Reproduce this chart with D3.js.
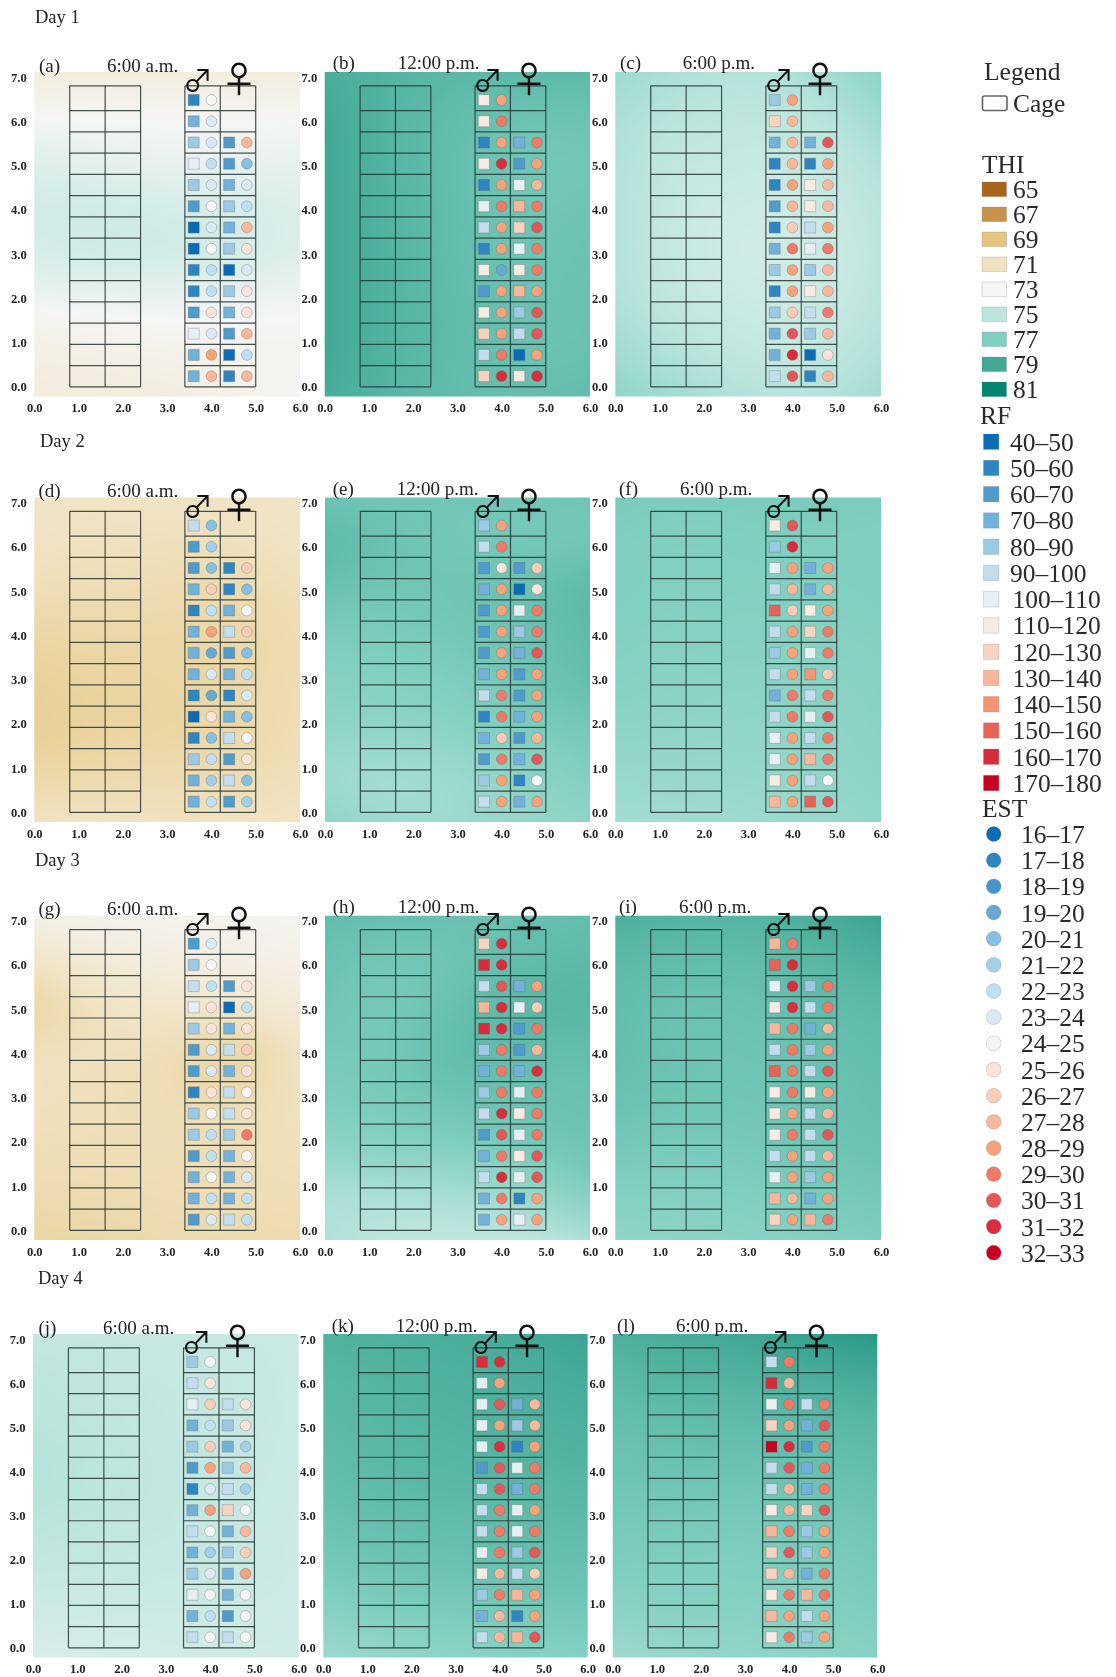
<!DOCTYPE html>
<html><head><meta charset="utf-8">
<style>html,body{margin:0;padding:0;background:#fff}svg{display:block;filter:blur(0.45px)}</style>
<script src="https://cdnjs.cloudflare.com/ajax/libs/d3/7.8.5/d3.min.js"></script>
</head><body><svg id="c" width="1116" height="1677"></svg>
<script>
// ---- Legend classes ----
const thiLevels=[65,67,69,71,73,75,77,79,81];
const thiColors=["#a9651b","#c8924b","#e5c57f","#f0e3c2","#f5f5f5","#bbe5dd","#80cfc0","#41a895","#02866f"];
const rfLabels=["40–50","50–60","60–70","70–80","80–90","90–100","100–110","110–120","120–130","130–140","140–150","150–160","160–170","170–180"];
const rfBreaks=[50,60,70,80,90,100,110,120,130,140,150,160,170];
const rfColors=["#0a6cb5","#2e85c2","#4f9bcc","#72b2da","#9ccae5","#c3dded","#e6eff4","#f7ebe4","#f9d3c2","#f8b79a","#f39472","#e66358","#d92c3b","#ca0020"];
const estLabels=["16–17","17–18","18–19","19–20","20–21","21–22","22–23","23–24","24–25","25–26","26–27","27–28","28–29","29–30","30–31","31–32","32–33"];
const estBreaks=[17,18,19,20,21,22,23,24,25,26,27,28,29,30,31,32];
const estColors=["#0a6cb5","#2e85c2","#4496c9","#66a9d5","#85bfe3","#a3cfe9","#bfe0f0","#daeaf3","#f5f5f5","#f9e3da","#facdb8","#f9b89b","#f6a27b","#ef7a67","#e35758","#da2c3d","#ca0020"];
const xTicks=[0,1,2,3,4,5,6], yTicks=[0,1,2,3,4,5,6,7];
// cage outline positions in the chart's metres
const cageColumns=[[0.8,1.6,2.4],[3.4,4.2,5.0]];
const cageRows=[0,0.48,0.96,1.44,1.92,2.4,2.88,3.36,3.84,4.32,4.8,5.28,5.76,6.24,6.8];
const markRows=[6.48,6,5.52,5.04,4.56,4.08,3.6,3.12,2.64,2.16,1.68,1.2,0.72,0.24];
const markCols=[3.6,4.0,4.4,4.8];
// ---- Cell readings, top row to bottom: male RF, male EST, female RF, female EST (lower bound of class) ----
const cells_a=[[50,24,null,null],[70,23,null,null],[80,23,60,27],[100,22,60,20],[80,23,70,23],[60,24,80,22],[40,23,70,27],[40,24,80,25],[50,22,40,23],[50,22,80,25],[60,25,70,25],[100,23,60,27],[70,28,40,22],[70,27,50,27]];
const cells_b=[[110,28,null,null],[110,29,null,null],[50,28,70,29],[110,31,60,28],[50,28,100,27],[100,29,130,29],[90,28,120,30],[50,28,100,29],[110,19,110,29],[60,28,130,28],[110,28,80,30],[120,28,90,30],[90,29,40,28],[120,31,110,31]];
const cells_c=[[80,28,null,null],[120,27,null,null],[70,27,70,30],[50,27,50,28],[50,28,110,27],[60,27,110,27],[50,26,90,28],[70,29,100,29],[80,28,80,27],[50,28,110,27],[80,26,90,29],[70,30,80,27],[70,31,40,25],[90,30,50,27]];
const cells_d=[[90,20,null,null],[60,21,null,null],[60,20,50,26],[70,26,50,20],[50,22,70,24],[70,28,90,26],[70,19,60,20],[70,23,70,22],[50,19,50,23],[40,25,70,20],[50,20,90,24],[80,22,60,25],[70,21,90,20],[70,22,60,21]];
const cells_e=[[80,28,null,null],[90,29,null,null],[60,25,60,26],[70,28,40,25],[60,28,100,29],[60,28,80,29],[60,28,70,30],[70,28,60,28],[90,29,60,28],[50,29,70,28],[70,26,60,27],[60,29,70,30],[80,28,50,24],[90,28,70,28]];
const cells_f=[[110,30,null,null],[80,31,null,null],[100,28,70,28],[90,27,70,27],[150,26,110,28],[90,28,120,29],[80,28,100,29],[90,28,140,26],[70,29,90,29],[90,29,100,30],[100,28,90,29],[100,28,130,29],[110,28,90,24],[130,28,150,30]];
const cells_g=[[60,23,null,null],[80,24,null,null],[90,22,60,25],[100,25,40,22],[80,25,70,25],[60,23,90,26],[60,23,70,25],[50,25,90,24],[80,24,90,25],[80,22,80,29],[60,22,70,24],[70,24,70,23],[70,22,70,22],[60,23,90,22]];
const cells_h=[[120,31,null,null],[160,31,null,null],[90,30,70,28],[130,31,100,26],[160,31,60,29],[80,29,60,27],[70,29,70,31],[80,29,100,29],[90,31,110,29],[60,30,100,29],[70,29,110,30],[90,31,100,30],[70,29,50,28],[70,28,100,28]];
const cells_i=[[130,29,null,null],[150,31,null,null],[100,31,80,29],[110,31,90,29],[130,29,70,27],[90,29,80,28],[150,29,90,30],[110,29,110,28],[110,28,90,27],[110,29,90,30],[90,28,90,27],[100,28,80,28],[130,27,70,28],[120,28,130,29]];
const cells_j=[[80,24,null,null],[90,25,null,null],[100,26,90,25],[70,22,80,25],[80,26,70,21],[60,28,80,27],[50,23,90,21],[70,28,120,24],[90,24,70,27],[70,21,80,26],[80,23,70,28],[100,24,70,24],[70,22,60,24],[90,24,90,24]];
const cells_k=[[160,31,null,null],[100,28,null,null],[100,30,70,27],[100,28,80,27],[100,31,50,28],[60,30,100,29],[90,30,70,29],[90,29,100,28],[90,29,100,29],[100,29,80,30],[110,27,90,26],[80,29,130,28],[70,27,50,28],[90,27,130,30]];
const cells_l=[[90,29,null,null],[160,27,null,null],[100,29,90,29],[120,28,70,30],[170,31,60,29],[90,30,70,29],[90,27,70,29],[110,27,120,30],[130,29,80,28],[120,30,80,28],[120,27,70,29],[110,29,130,29],[130,28,90,28],[110,29,80,28]];
// ---- THI field samples: 8 rows top to bottom, 5 columns left to right ----
const thi_a=[[72.1,72.1,72.1,72.1,72.1],[73,73,73,73,73],[73.9,73.6,73.4,73.4,73.5],[74.3,74.4,74.2,74.2,73.9],[74.1,74.4,74.4,74.2,73.9],[73.1,73.2,73.2,73.2,73.1],[72.3,72.4,72.6,72.7,72.7],[72.1,72.1,72.1,72.5,73]];
const thi_b=[[78.7,78.4,78.2,78.1,78.1],[79,78.3,77.9,77.5,77.6],[79,78.3,77.9,77.3,77.4],[79,78.4,77.9,77.4,77.6],[79,78.4,77.9,77.5,77.7],[79,78.4,78,77.6,77.7],[79,78.4,78,77.6,77.7],[78.8,78.3,77.9,77.8,77.9]];
const thi_c=[[76,75.4,75.1,75.6,76.6],[75.5,75,74.8,74.8,75.9],[75.3,74.6,74.6,74.5,75.3],[75.3,74.5,74.3,74.3,75],[75.2,74.5,74.2,74.2,74.9],[75.4,74.6,74.4,74.3,75],[75.8,75.1,74.6,74.6,75.3],[76.4,75.8,75.2,75.1,75.8]];
const thi_d=[[71.2,71.1,71.1,71.1,71.2],[71.1,70.9,70.8,70.8,71.1],[70.7,70.6,70.5,70.4,70.8],[70.1,70.2,70.2,70.1,70.5],[69.8,70,70.1,70.2,70.6],[69.6,69.9,70,70.2,70.6],[70.2,70.4,70.5,70.5,70.8],[71.1,71,70.9,71,71.1]];
const thi_e=[[77.6,77.4,77.4,77.4,77.5],[78.2,77.7,77.3,77.3,77.3],[77.7,77.4,77.6,77.7,78.3],[77.1,77.1,77.4,77.6,78],[76.8,76.9,77,77.5,77.9],[76.6,76.4,76.8,77.1,77.3],[75.8,75.6,75.9,76.6,77],[76.5,75.9,76,76.3,76.5]];
const thi_f=[[77.2,77.1,77.1,77.2,77.1],[77,76.9,77,77,77],[77,76.9,76.9,76.9,77],[76.9,76.8,76.8,76.8,76.9],[76.8,76.7,76.6,76.6,76.8],[76.6,76.5,76.4,76.5,76.7],[76.2,76.3,76.2,76.4,76.6],[75.8,75.8,76,76.1,76.4]];
const thi_g=[[72.5,72.6,72.7,72.7,72.8],[71.2,71.9,72.2,72.3,72.5],[69.9,71,71.4,71.5,71.8],[71,70.9,70.6,69.5,71],[70.9,70.7,70.6,70.6,71],[70.7,70.7,70.7,70.7,70.8],[70.5,70.5,70.6,70.6,70.7],[70.1,70.2,70.4,70.5,70.5]];
const thi_h=[[77.9,77.8,77.7,77.7,77.9],[77.7,77.2,77.5,78,78.1],[77.5,77.2,77.8,78.3,78.4],[77.3,77.3,78.2,77.9,77.8],[77.1,77.2,77.6,77.6,77.7],[76.7,76.9,77.1,77.4,77.6],[75.4,75.4,75.6,76.2,77],[75.4,74.9,74.8,74.8,75.5]];
const thi_i=[[78.6,78.4,78.3,78.7,79.2],[78.1,77.9,77.9,78.2,78.5],[77.9,77.6,77.6,77.9,78.1],[77.9,77.6,77.5,77.7,77.9],[77.7,77.5,77.5,77.6,77.8],[77.4,77.2,77.3,77.5,77.7],[76.9,76.9,77,77.2,77.4],[76.5,76.6,76.7,76.9,77.1]];
const thi_j=[[74.7,74.7,74.6,74.6,74.4],[75,74.8,74.6,74.8,74.5],[75,74.9,74.7,74.6,74.5],[75.3,75,74.8,74.6,74.5],[75,74.9,74.7,74.6,74.4],[74.8,74.7,74.6,74.6,74.4],[74.3,74.4,74.4,74.4,74.3],[74,74.1,74.2,74.3,74.3]];
const thi_k=[[78.5,78.6,78.7,78.8,79.2],[78.2,78.4,78.6,78.7,78.8],[78.1,78.3,78.4,78.5,78.6],[77.9,78.2,78.3,78.3,78.4],[77.7,77.9,78,78,78.1],[77.3,77.6,77.7,77.8,77.8],[76.8,77.1,77.2,77.3,77.4],[76.1,76.4,76.6,76.8,76.9]];
const thi_l=[[78.6,78.8,79,79.4,79.8],[78.1,78.4,78.4,78.6,78.8],[77.8,77.9,78,78,78.2],[77.6,77.6,77.6,77.7,77.9],[77.3,77.3,77.2,77.3,77.5],[77.1,77,77,77.1,77.3],[76.7,76.8,76.8,76.9,77.1],[76,76.3,76.4,76.6,76.8]];
// ---- Layout ----
const panels=[
 {tag:"(a)",time:"6:00 a.m.",cells:cells_a,thi:thi_a,x0:34.3,x1:300,y0:72,y1:396.5,tagX:39,timeX:107,base:72},
 {tag:"(b)",time:"12:00 p.m.",cells:cells_b,thi:thi_b,x0:324.7,x1:590,y0:72,y1:396.5,tagX:332.7,timeX:397.7,base:69},
 {tag:"(c)",time:"6:00 p.m.",cells:cells_c,thi:thi_c,x0:615.3,x1:881,y0:72,y1:396.5,tagX:620,timeX:682.7,base:69},
 {tag:"(d)",time:"6:00 a.m.",cells:cells_d,thi:thi_d,x0:34.3,x1:300,y0:497.5,y1:822,tagX:38.5,timeX:107,base:497},
 {tag:"(e)",time:"12:00 p.m.",cells:cells_e,thi:thi_e,x0:325,x1:590,y0:497.5,y1:822,tagX:332.7,timeX:396.7,base:495},
 {tag:"(f)",time:"6:00 p.m.",cells:cells_f,thi:thi_f,x0:615.3,x1:881,y0:497.5,y1:822,tagX:619,timeX:680,base:495},
 {tag:"(g)",time:"6:00 a.m.",cells:cells_g,thi:thi_g,x0:34.3,x1:300,y0:915.7,y1:1240,tagX:38.5,timeX:107,base:915},
 {tag:"(h)",time:"12:00 p.m.",cells:cells_h,thi:thi_h,x0:325,x1:590,y0:915.7,y1:1240,tagX:332.7,timeX:397.7,base:913},
 {tag:"(i)",time:"6:00 p.m.",cells:cells_i,thi:thi_i,x0:615.3,x1:881,y0:915.7,y1:1240,tagX:619,timeX:679,base:913},
 {tag:"(j)",time:"6:00 a.m.",cells:cells_j,thi:thi_j,x0:33,x1:298.7,y0:1334,y1:1657.5,tagX:38.5,timeX:103,base:1334},
 {tag:"(k)",time:"12:00 p.m.",cells:cells_k,thi:thi_k,x0:323.3,x1:587.7,y0:1334,y1:1657.5,tagX:331.7,timeX:395.7,base:1332},
 {tag:"(l)",time:"6:00 p.m.",cells:cells_l,thi:thi_l,x0:612.7,x1:877.3,y0:1334,y1:1657.5,tagX:617,timeX:676,base:1332}
];
const dayLabels=[["Day 1",35,23],["Day 2",40,447],["Day 3",35,866],["Day 4",38,1284]];
const serif="'Liberation Serif','Times New Roman',serif";
const svg=d3.select("#c");
const thiScale=d3.scaleLinear().domain(thiLevels).range(thiColors).clamp(true);
const rfScale=d3.scaleThreshold().domain(rfBreaks).range(rfColors);
const estScale=d3.scaleThreshold().domain(estBreaks).range(estColors);

function fieldImage(grid,w,h){
  const cv=document.createElement("canvas");cv.width=w;cv.height=h;
  const ctx=cv.getContext("2d");const im=ctx.createImageData(w,h);
  const rowFns=grid.map(r=>d3.interpolateBasis(r));
  for(let x=0;x<w;x++){
    const colFn=d3.interpolateBasis(rowFns.map(f=>f(x/(w-1))));
    for(let y=0;y<h;y++){
      const c=d3.rgb(thiScale(colFn(y/(h-1))));
      const k=(y*w+x)*4;im.data[k]=c.r;im.data[k+1]=c.g;im.data[k+2]=c.b;im.data[k+3]=255;
    }
  }
  ctx.putImageData(im,0,0);return cv.toDataURL();
}

panels.forEach(p=>{
  const x=d3.scaleLinear().domain([0,6]).range([p.x0,p.x1]);
  const unit=(p.y1-p.y0-14.7)/7;
  const y=d3.scaleLinear().domain([0,7]).range([p.y1-9.7,p.y1-9.7-7*unit]);
  const g=svg.append("g");
  g.append("image").attr("x",p.x0).attr("y",p.y0).attr("width",p.x1-p.x0).attr("height",p.y1-p.y0)
   .attr("preserveAspectRatio","none")
   .attr("href",fieldImage(p.thi,Math.round(p.x1-p.x0),Math.round(p.y1-p.y0)));
  // cages
  const cage=g.append("g").attr("fill","none").attr("stroke","#263532").attr("stroke-opacity",.85).attr("stroke-width",1.2).attr("stroke-linejoin","round");
  cageColumns.forEach(cols=>{
    cage.selectAll(null).data(cols).join("line")
      .attr("x1",d=>x(d)).attr("x2",d=>x(d)).attr("y1",y(0)).attr("y2",y(6.8));
    cage.selectAll(null).data(cageRows).join("line")
      .attr("y1",d=>y(d)).attr("y2",d=>y(d)).attr("x1",x(cols[0])).attr("x2",x(cols[2]));
  });
  // marks
  const sq=11,r=5.4;
  p.cells.forEach((row,i)=>{
    row.forEach((v,j)=>{
      if(v==null)return;
      const cx=x(markCols[j]),cy=y(markRows[i]);
      if(j%2==0){
        g.append("rect").attr("x",cx-sq/2).attr("y",cy-sq/2).attr("width",sq).attr("height",sq)
         .attr("fill",rfScale(v)).attr("stroke","rgba(90,90,90,.3)").attr("stroke-width",1);
      }else{
        g.append("circle").attr("cx",cx).attr("cy",cy).attr("r",r)
         .attr("fill",estScale(v)).attr("stroke","rgba(90,90,90,.3)").attr("stroke-width",1);
      }
    });
  });
  // axes
  const ax=g.append("g").attr("transform",`translate(0,${p.y1})`)
    .call(d3.axisBottom(x).tickValues(xTicks).tickFormat(d3.format(".1f")).tickSize(0).tickPadding(7));
  const ay=g.append("g").attr("transform",`translate(${p.x0},0)`)
    .call(d3.axisLeft(y).tickValues(yTicks).tickFormat(d3.format(".1f")).tickSize(0).tickPadding(7.5));
  [ax,ay].forEach(a=>{a.select(".domain").remove();
    a.selectAll("text").attr("font-family",serif).attr("font-weight","bold").attr("font-size",12.6).attr("fill","#222");});
  // titles
  g.append("text").attr("x",p.tagX).attr("y",p.base).text(p.tag).attr("font-family",serif).attr("font-size",19).attr("fill","#222");
  g.append("text").attr("x",p.timeX).attr("y",p.base).text(p.time).attr("font-family",serif).attr("font-size",19).attr("fill","#222");
  // sex symbols
  g.append("text").attr("x",x(3.69)).attr("y",p.y0+19).attr("text-anchor","middle").text("♂")
    .attr("font-family","'Noto Sans CJK JP'").attr("font-size",30).attr("fill","#111");
  g.append("text").attr("x",x(4.62)).attr("y",p.y0+21).attr("text-anchor","middle").text("♀")
    .attr("font-family","'Noto Sans CJK JP'").attr("font-size",36).attr("fill","#111");
});

svg.selectAll(".day").data(dayLabels).join("text").attr("class","day")
  .attr("x",d=>d[1]).attr("y",d=>d[2]).text(d=>d[0]).attr("font-family",serif).attr("font-size",18.5).attr("fill","#222");

// ---- Legend ----
const lg=svg.append("g").attr("font-family",serif).attr("font-size",25.5).attr("fill","#2a2a2a");
lg.append("text").attr("x",984).attr("y",80).text("Legend");
lg.append("rect").attr("x",982.5).attr("y",96).attr("width",24.5).attr("height",14.5).attr("rx",2)
  .attr("fill","#fff").attr("stroke","#666").attr("stroke-width",1.6);
lg.append("text").attr("x",1013).attr("y",112).text("Cage");
lg.append("text").attr("x",982).attr("y",173).text("THI");
const thiY=d3.scalePoint().domain(thiLevels).range([189.3,389.3]);
lg.selectAll(".t").data(thiLevels).join("rect").attr("class","t")
  .attr("x",982).attr("y",d=>thiY(d)-7.3).attr("width",24.5).attr("height",14.6)
  .attr("fill",d=>thiScale(d)).attr("stroke","rgba(120,120,120,.25)");
lg.selectAll(".tl").data(thiLevels).join("text").attr("class","tl")
  .attr("x",1013).attr("y",d=>thiY(d)+8.5).text(d=>d);
lg.append("text").attr("x",980).attr("y",424).text("RF");
const rfY=d3.scalePoint().domain(rfLabels).range([441.7,783]);
lg.selectAll(".r").data(rfLabels).join("rect").attr("class","r")
  .attr("x",983.5).attr("y",d=>rfY(d)-7.7).attr("width",15.4).attr("height",15.4)
  .attr("fill",(d,i)=>rfColors[i]).attr("stroke","rgba(120,120,120,.25)");
lg.selectAll(".rl").data(rfLabels).join("text").attr("class","rl")
  .attr("x",(d,i)=>i<6?1010:1012.5).attr("y",d=>rfY(d)+9).text(d=>d);
lg.append("text").attr("x",982).attr("y",817).text("EST");
const estY=d3.scalePoint().domain(estLabels).range([834,1252.7]);
lg.selectAll(".e").data(estLabels).join("circle").attr("class","e")
  .attr("cx",993.7).attr("cy",d=>estY(d)).attr("r",7.4)
  .attr("fill",(d,i)=>estColors[i]).attr("stroke","rgba(120,120,120,.25)");
lg.selectAll(".el").data(estLabels).join("text").attr("class","el")
  .attr("x",1021).attr("y",d=>estY(d)+9).text(d=>d);
</script></body></html>
